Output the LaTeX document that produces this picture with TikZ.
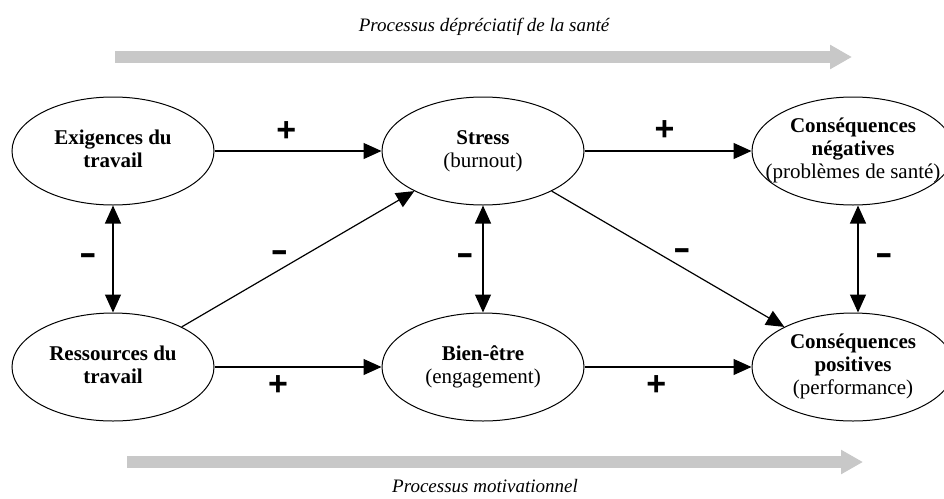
\documentclass[tikz,border=0pt]{standalone}
\usepackage{fontspec}
\setmainfont{Liberation Serif}
\setsansfont{Liberation Sans}
\usepackage{xcolor}
\usepackage{tikz}
\usetikzlibrary{positioning, shapes.geometric, arrows.meta, calc}

\definecolor{flowgray}{RGB}{200,200,200}
\newcommand{\elltxt}[1]{\makebox[0pt]{\begin{tabular}{@{}c@{}}#1\end{tabular}}}
\newcommand{\neglbl}{\scalebox{1.55}[1]{-}}

\begin{document}
\begin{tikzpicture}[x=1pt, y=-1pt, node distance=107pt and 167pt,
	ell/.style={draw, ellipse, line width=1pt, minimum width=202pt, minimum height=108pt, inner sep=0pt, font=\fontsize{21}{23}\selectfont},
	link/.style={line width=1.2pt, -{Triangle[length=18pt, width=16pt]}},
	dlink/.style={line width=1.2pt, {Triangle[length=18pt, width=16pt]}-{Triangle[length=18pt, width=16pt]}},
	plus/.style={font=\fontsize{34}{34}\selectfont\sffamily\bfseries},
	minus/.style={font=\fontsize{34}{34}\selectfont\sffamily\bfseries},
	flow/.style={line width=12pt, flowgray, -{Triangle[length=22pt, width=23pt]}},
	proc/.style={font=\fontsize{19}{21}\selectfont\itshape}]
	\useasboundingbox (0,0) rectangle (944,498);
	
	% Processes
	\node[proc] (ttltop) at (484,27) {Processus dépréciatif de la santé};
	\draw[flow] (115,57) -- (852,57);
	\draw[flow] (127,462) -- (863,462);
	\node[proc] (ttlbot) at (485,486) {Processus motivationnel};
	
	% Entities
	\node[ell] (exig) at (113,151) {\elltxt{\textbf{Exigences du}\\ \textbf{travail}}};
	\node[ell, right=of exig] (stress) {\elltxt{\textbf{Stress}\\ (burnout)}};
	\node[ell, right=of stress] (neg) {\elltxt{\textbf{Conséquences}\\ \textbf{négatives}\\ (problèmes de santé)}};
	\node[ell, below=of exig] (ress) {\elltxt{\textbf{Ressources du}\\ \textbf{travail}}};
	\node[ell, below=of stress] (bien) {\elltxt{\textbf{Bien-être}\\ (engagement)}};
	\node[ell, below=of neg] (pos) {\elltxt{\textbf{Conséquences}\\ \textbf{positives}\\ (performance)}};
	
	% Relationships
	\draw[link] (exig) -- node[plus, pos=.43, yshift=19pt] {+} (stress);
	\draw[link] (stress) -- node[plus, pos=.48, yshift=20pt] {+} (neg);
	\draw[link] (ress) -- node[plus, pos=.38, yshift=-19pt] {+} (bien);
	\draw[link] (bien) -- node[plus, pos=.43, yshift=-19pt] {+} (pos);
	
	\draw[dlink] (exig) -- node[minus, xshift=-25pt] {\neglbl} (ress);
	\draw[dlink] (stress) -- node[minus, xshift=-18pt] {\neglbl} (bien);
	\draw[dlink] ([xshift=5pt]neg.south) -- node[minus, xshift=26pt] {\neglbl} ([xshift=5pt]pos.north);
	
	\draw[link] (ress) -- node[minus, pos=.42, yshift=14pt] {\neglbl} (stress);
	\draw[link] (stress) -- node[minus, pos=.56, yshift=13pt] {\neglbl} (pos);
\end{tikzpicture}
\end{document}
